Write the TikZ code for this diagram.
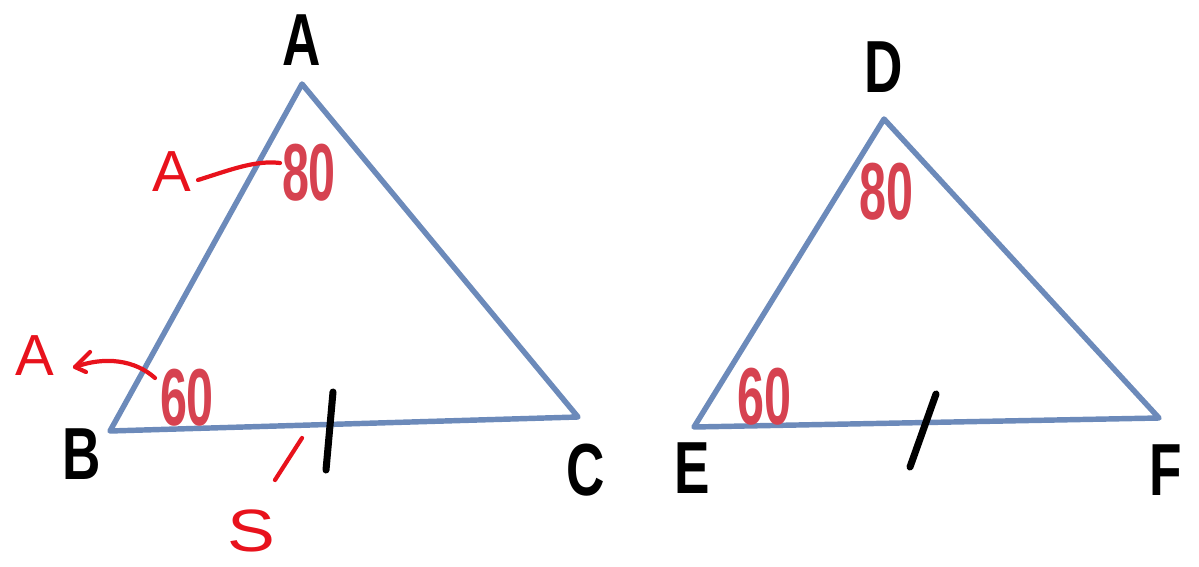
\documentclass[tikz,border=0pt]{standalone}
\usepackage{fontspec}
\setmainfont{Liberation Sans}
\usetikzlibrary{arrows.meta}
\definecolor{triblue}{RGB}{108,138,186}
\definecolor{numred}{RGB}{214,66,80}
\definecolor{penred}{RGB}{232,18,28}
\begin{document}
\begin{tikzpicture}[x=0.02cm,y=-0.02cm,
 tri/.style={draw=triblue, line width=3.1pt, line join=round},
 vlabel/.style={font=\fontsize{42}{42}\selectfont\bfseries, xscale=0.72, inner sep=0},
 num/.style={text=numred, font=\fontsize{46}{46}\selectfont\bfseries, xscale=0.6, inner sep=0},
 tickmark/.style={line width=4pt, black, line cap=round},
 pen/.style={draw=penred, line width=2.4pt, line cap=round, line join=round},
 pentext/.style={text=penred, font=\fontsize{33}{33}\selectfont, inner sep=0}]
\useasboundingbox (0,0) rectangle (1199,567);
% left triangle
\coordinate (A) at (302,84);
\coordinate (B) at (110,431);
\coordinate (C) at (578,417);
\draw[tri] (A) -- (B) -- (C) -- cycle;
\node[vlabel] (lA) at (302,40) {A};
\node[vlabel] (lB) at (82,454) {B};
\node[vlabel] (lC) at (586,470) {C};
\node[num] (nA) at (309,173) {80};
\node[num] (nB) at (187,398) {60};
\coordinate (t1a) at (333,392);
\coordinate (t1b) at (326,470);
\draw[tickmark] (t1a) -- (t1b);
% right triangle
\coordinate (D) at (884,119);
\coordinate (E) at (694,427);
\coordinate (F) at (1159,418);
\draw[tri] (D) -- (E) -- (F) -- cycle;
\node[vlabel] (lD) at (884,67) {D};
\node[vlabel] (lE) at (692,468) {E};
\node[vlabel] (lF) at (1166,470) {F};
\node[num] (nD) at (886,192) {80};
\node[num] (nE) at (764,397) {60};
\coordinate (t2a) at (936,394);
\coordinate (t2b) at (910,467);
\draw[tickmark] (t2a) -- (t2b);
% red handwritten annotations
\node[pentext] (hA1) at (172,172) {A};
\coordinate (p1s) at (198,180);
\coordinate (p1e) at (280,163);
\draw[pen] (p1s) .. controls (230,170) and (255,160) .. (p1e);
\node[pentext] (hA2) at (35,356) {A};
\coordinate (p2s) at (155,378);
\coordinate (p2e) at (75,367);
\coordinate (p2u) at (90,352);
\coordinate (p2l) at (86,372);
\draw[pen] (p2s) .. controls (135,360) and (105,356) .. (p2e);
\draw[pen] (p2u) -- (p2e) -- (p2l);
\coordinate (p3s) at (302,438);
\coordinate (p3e) at (275,480);
\draw[pen] (p3s) -- (p3e);
\node[pentext, font=\fontsize{34}{34}\selectfont, xscale=1.2] (hS) at (251,531) {S};
\end{tikzpicture}
\end{document}
